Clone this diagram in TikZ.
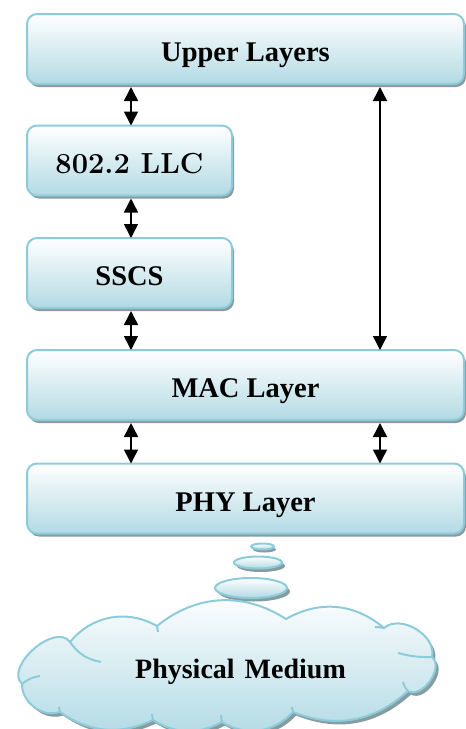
\documentclass[tikz,border=0pt]{standalone}
\usepackage{fontspec}
\newfontfamily\timesf{Liberation Serif}
\usetikzlibrary{arrows.meta,shadows,calc}
\definecolor{edgeblue}{RGB}{140,204,218}
\definecolor{fillblue}{RGB}{178,218,228}
\definecolor{shadowgray}{RGB}{135,155,160}

% outline of the medium cloud, puff by puff (clockwise)
\def\cloudpath{(70,642) to[bend left=40] (157,626)
  to[bend left=36] (286,619)
  to[bend left=35] (384,628)
  to[bend left=72] (432,657)
  to[bend left=85] (408,691)
  to[bend left=32] (293,712)
  to[bend left=40] (222,722)
  to[bend left=30] (153,720)
  to[bend left=30] (60,712)
  to[bend left=55] (22,684)
  to[bend left=95] cycle}

\begin{document}
\begin{tikzpicture}[x=1pt,y=-1pt,
  layer/.style={draw=edgeblue, line width=2pt, rounded corners=10pt,
    top color=white, bottom color=fillblue, minimum height=70pt,
    inner sep=0pt, outer sep=0pt, text height=25pt, text depth=0pt,
    font=\timesf\bfseries\fontsize{28.5}{30}\selectfont,
    general shadow={fill=shadowgray, shadow xshift=2pt, shadow yshift=-3pt}},
  bubble/.style={draw=edgeblue, line width=2pt, top color=white, bottom color=fillblue},
  bubbleshadow/.style={fill=shadowgray},
  puffline/.style={edgeblue, line width=2pt},
  biarrow/.style={line width=1.5pt,
    {Triangle[width=14pt,length=14pt]}-{Triangle[width=14pt,length=14pt]}}]
\useasboundingbox (0,0) rectangle (466,729);

% protocol layers
\node[layer, minimum width=437pt] (upper) at (245.5,49) {Upper Layers};
\node[layer, minimum width=205pt, font=\bfseries\fontsize{29}{30}\selectfont] (llc) at (129.5,160.5) {802.2 LLC};
\node[layer, minimum width=205pt] (sscs) at (129.5,273) {SSCS};
\node[layer, minimum width=437pt] (mac) at (245.5,385) {MAC Layer};
\node[layer, minimum width=437pt] (phy) at (245.5,498.5) {PHY Layer};

% connectors between the layers
\coordinate (lx) at (131,0);
\coordinate (rx) at (380,0);
\draw[biarrow, shorten <=3pt] (upper.south -| lx) -- (llc.north -| lx);
\draw[biarrow, shorten <=3pt] (llc.south -| lx) -- (sscs.north -| lx);
\draw[biarrow, shorten <=3pt] (sscs.south -| lx) -- (mac.north -| lx);
\draw[biarrow, shorten <=3pt] (upper.south -| rx) -- (mac.north -| rx);
\draw[biarrow, shorten <=3pt] (mac.south -| lx) -- (phy.north -| lx);
\draw[biarrow, shorten <=3pt] (mac.south -| rx) -- (phy.north -| rx);

% thought bubbles
\fill[bubbleshadow] (264.5,549.5) ellipse [x radius=11.5pt, y radius=3pt];
\path[bubble] (262.5,546.5) ellipse [x radius=11.5pt, y radius=3pt];
\fill[bubbleshadow] (261,566) ellipse [x radius=24pt, y radius=6pt];
\path[bubble] (258,562.5) ellipse [x radius=24pt, y radius=6pt];
\fill[bubbleshadow] (254,591.5) ellipse [x radius=36pt, y radius=10pt];
\path[bubble] (251,588) ellipse [x radius=36pt, y radius=10pt];

% the medium cloud and the ends of its overlapping puffs
\fill[bubbleshadow, shift={(3,3.5)}] \cloudpath;
\path[bubble] \cloudpath;
\draw[puffline] (70,642) to[bend right=22] (101,662);
\draw[puffline] (157,626) to[bend left=10] (158,632);
\draw[puffline] (384,628) to[bend right=5] (375,627);
\draw[puffline] (432,657) to[bend left=8] (398,653);
\draw[puffline] (408,691) to[bend left=15] (403,682);
\draw[puffline] (293,712) to[bend left=10] (292,707);
\draw[puffline] (222,722) to[bend left=10] (221,715);
\draw[puffline] (153,720) to[bend left=10] (152,714);
\draw[puffline] (60,712) to[bend left=10] (59,707);
\draw[puffline] (22,684) to[bend left=15] (40,676);
\node[font=\timesf\bfseries\fontsize{28}{30}\selectfont, text height=20pt, text depth=0pt,
  inner sep=0pt] (medium) at (240.5,668) {Physical\hspace{3pt} Medium};
\end{tikzpicture}
\end{document}
